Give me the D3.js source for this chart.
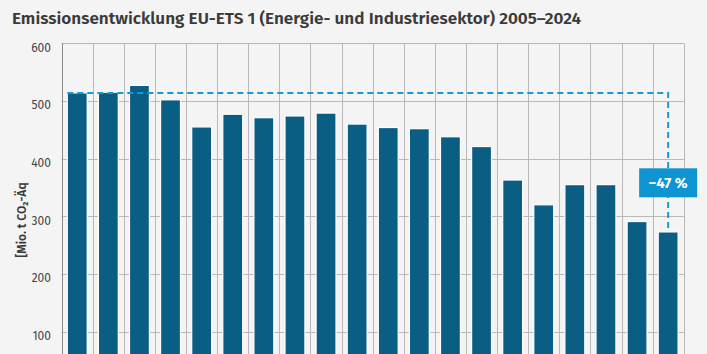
<!DOCTYPE html>
<html>
<head>
<meta charset="utf-8">
<script src="https://cdn.jsdelivr.net/npm/d3@7"></script>
<style>
  html, body { margin: 0; padding: 0; background: #f4f4f4; }
  svg { display: block; }
</style>
</head>
<body>
<div id="chart"></div>
<script>
// Emissionen EU-ETS 1 Anlagen, Mio. t CO2-Äq
const years = [2005, 2006, 2007, 2008, 2009, 2010, 2011, 2012, 2013, 2014,
               2015, 2016, 2017, 2018, 2019, 2020, 2021, 2022, 2023, 2024];
const emissions = [514, 515, 527, 502, 455, 477, 471, 474, 479, 460,
                   454, 452, 438, 421, 363, 320, 355, 355, 291, 273];
const yTicks = [100, 200, 300, 400, 500, 600]; // 0 liegt ausserhalb des Ausschnitts
const changeLabel = '\u221247 %';

const width = 707, height = 354;
const margin = { top: 43.3, left: 61.7, right: 23.3 };
const bottomY = 389.4; // Nulllinie liegt unterhalb des sichtbaren Ausschnitts

const svg = d3.select('#chart').append('svg')
  .attr('width', width).attr('height', height)
  .style('font-family', '"Fira Sans", "Open Sans", "Noto Sans", sans-serif');

svg.append('rect').attr('width', width).attr('height', height).attr('fill', '#f4f4f4');

const x = d3.scaleBand().domain(years).range([margin.left, width - margin.right]).paddingInner(0.36).paddingOuter(0.18);
const y = d3.scaleLinear().domain([0, 600]).range([bottomY, margin.top]);

// Titel
const title = svg.append('text')
  .attr('x', 12).attr('y', 24)
  .attr('fill', '#3a3a3a').attr('font-weight', 600).attr('font-size', 16)
  .text('Emissionsentwicklung EU-ETS 1 (Energie- und Industriesektor) 2005\u20132024');
const tw = title.node().getComputedTextLength();
title.attr('font-size', 16 * 570 / tw);

// Gitter
const grid = svg.append('g');
grid.selectAll('line.h').data(yTicks).join('line')
  .attr('x1', margin.left).attr('x2', width - margin.right)
  .attr('y1', d => Math.round(y(d)) + 0.5).attr('y2', d => Math.round(y(d)) + 0.5)
  .attr('stroke', '#b9b9b9').attr('stroke-width', 1);
const bounds = years.map(d => x(d) - x.step() * x.paddingInner() / 2);
bounds.push(width - margin.right);
grid.selectAll('line.v').data(bounds).join('line')
  .attr('x1', d => Math.round(d) + 0.5).attr('x2', d => Math.round(d) + 0.5)
  .attr('y1', margin.top).attr('y2', height)
  .attr('stroke', (d, i) => i === 0 ? '#8a8a8a' : '#b9b9b9').attr('stroke-width', 1);

// Achsenbeschriftung
svg.append('g').selectAll('text').data(yTicks).join('text')
  .attr('x', 51).attr('y', d => y(d) + 4).attr('dy', '0.35em')
  .attr('text-anchor', 'end').attr('fill', '#444').attr('font-size', 12)
  .text(d => d);

svg.append('text')
  .attr('transform', `translate(22,220) rotate(-90)`)
  .attr('text-anchor', 'middle').attr('dy', '0.35em')
  .attr('fill', '#3a3a3a').attr('font-size', 12).attr('font-weight', 600)
  .text('[Mio. t CO\u2082-\u00c4q');

// Balken
svg.append('g').selectAll('rect').data(years).join('rect')
  .attr('x', d => x(d)).attr('width', x.bandwidth())
  .attr('y', (d, i) => y(emissions[i])).attr('height', (d, i) => bottomY - y(emissions[i]))
  .attr('fill', '#0a5e84').attr('stroke', '#ffffff').attr('stroke-width', 1.2);

// Referenzlinie 2005 -> 2024
const first = years[0], last = years[years.length - 1];
const lx = x(last) + x.bandwidth() / 2;
svg.append('path')
  .attr('d', d3.line()([[x(first), y(emissions[0])], [lx, y(emissions[0])], [lx, y(emissions[emissions.length - 1])]]))
  .attr('fill', 'none').attr('stroke', '#1a98d5').attr('stroke-width', 2)
  .attr('stroke-dasharray', '6,4');

// Veränderungslabel
const boxW = 58, boxH = 29, boxCy = 182.8;
svg.append('rect')
  .attr('x', lx - boxW / 2).attr('y', boxCy - boxH / 2)
  .attr('width', boxW).attr('height', boxH).attr('fill', '#0f94d2');
svg.append('text')
  .attr('x', lx).attr('y', boxCy).attr('dy', '0.36em')
  .attr('text-anchor', 'middle').attr('fill', '#fff')
  .attr('font-size', 15).attr('font-weight', 700)
  .text(changeLabel);
</script>
</body>
</html>
